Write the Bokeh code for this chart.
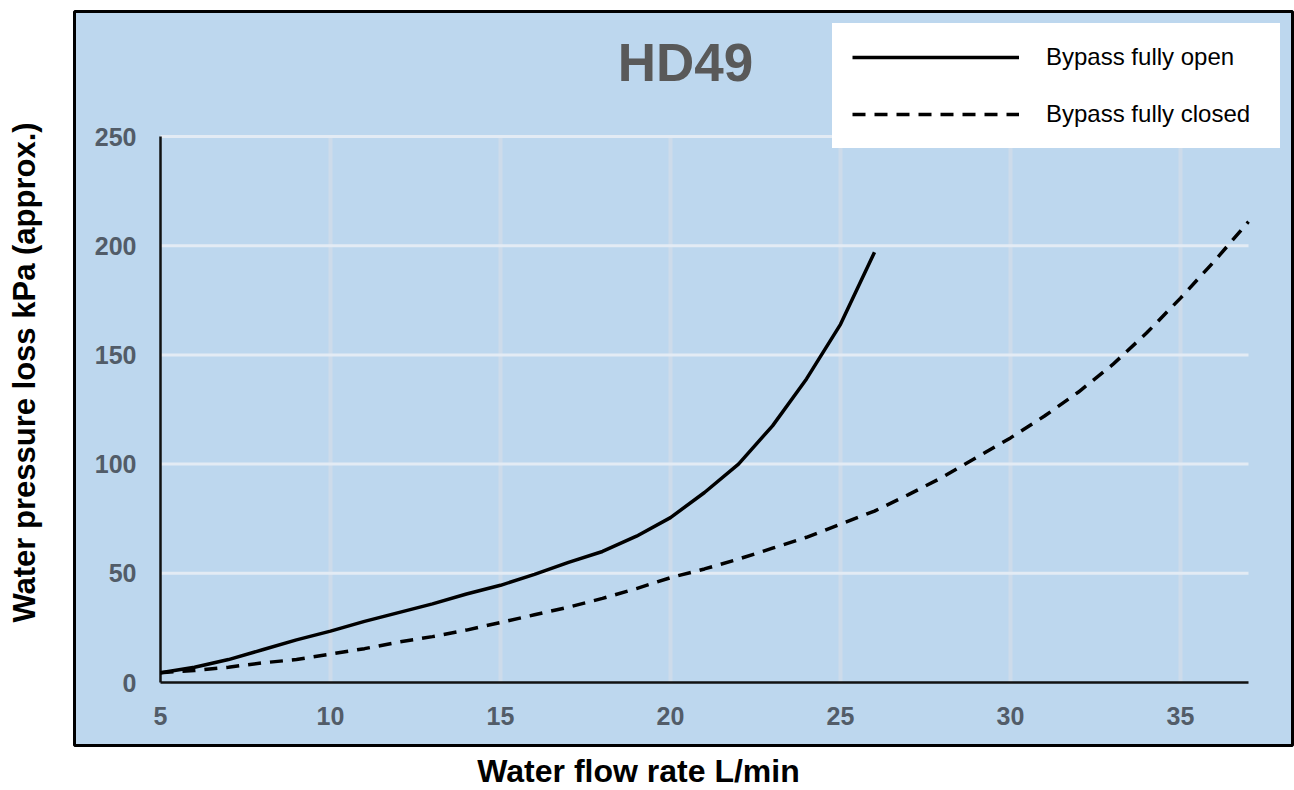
import math
from bokeh.plotting import figure
from bokeh.models import Range1d, Legend, LegendItem
from bokeh.core.properties import value
from bokeh.embed import file_html
from bokeh.resources import INLINE

# ---------------- data ----------------
flow_open = [5, 6, 7, 8, 9, 10, 11, 12, 13, 14, 15, 16, 17, 18, 19, 20, 21, 22, 23, 24, 25, 26]
loss_open = [4.5, 7, 10.5, 15, 19.5, 23.5, 28, 32, 36, 40.5, 44.5, 49.5, 55, 60, 67, 75.5, 87, 100, 117.5, 139, 164, 197]

flow_closed = [5, 6, 7, 8, 9, 10, 11, 12, 13, 14, 15, 16, 17, 18, 19, 20, 21,
               22, 23, 24, 25, 26, 27, 28, 29, 30, 31, 32, 33, 34, 35, 36, 37]
loss_closed = [4.5, 5.5, 7, 9, 10.5, 13, 15.5, 18.5, 21, 24, 27.5, 31, 34.5, 38.5, 43, 48, 52,
               56.5, 61.5, 66.5, 72.5, 78.5, 86, 94, 103, 112, 122, 133, 145.5, 160, 176, 193, 211]

series_names = ["Bypass fully open", "Bypass fully closed"]
x_ticks = [5, 10, 15, 20, 25, 30, 35]
x_tick_labels = ["5", "10", "15", "20", "25", "30", "35"]
y_ticks = [0, 50, 100, 150, 200, 250]
y_tick_labels = ["0", "50", "100", "150", "200", "250"]
chart_title = "HD49"
x_title = "Water flow rate L/min"
y_title = "Water pressure loss kPa (approx.)"

X_MIN, X_MAX = 5, 37
Y_MIN, Y_MAX = 0, 250

# ---------------- layout (pixels, from the canvas top-left) ----------------
W, H = 1294, 790
PX_X = 34.0          # pixels per L/min
PX_Y = 2.184         # pixels per kPa
ORIGIN_X = 160       # canvas x of flow = 5
ORIGIN_Y = 682       # canvas y of loss = 0
BOX_L, BOX_R, BOX_T, BOX_B = 74, 1292, 11, 745   # blue panel

def X(px):   # canvas x -> data
    return X_MIN + (px - ORIGIN_X) / PX_X

def Y(py):   # canvas y -> data
    return Y_MIN + (ORIGIN_Y - py) / PX_Y

BG = "#bdd7ee"
TICK_COLOR = "#525c68"
FONT = "Liberation Sans"

p = figure(width=W, height=H, x_range=Range1d(X(0), X(W)), y_range=Range1d(Y(H), Y(0)),
           output_backend="svg", toolbar_location=None,
           x_axis_location=None, y_axis_location=None,
           min_border=0, min_border_left=0, min_border_right=0,
           min_border_top=0, min_border_bottom=0,
           background_fill_color="white", border_fill_color="white",
           outline_line_color=None)
p.grid.visible = False

# blue panel with black border
p.quad(left=[X(BOX_L)], right=[X(BOX_R)], top=[Y(BOX_T)], bottom=[Y(BOX_B)],
       fill_color=BG, line_color="black", line_width=3)

# gridlines
p.segment(x0=x_ticks[1:], y0=[Y_MIN] * (len(x_ticks) - 1), x1=x_ticks[1:], y1=[Y_MAX] * (len(x_ticks) - 1),
          line_color="#cddbea", line_width=4)
p.segment(x0=[X_MIN] * (len(y_ticks) - 1), y0=y_ticks[1:], x1=[X_MAX] * (len(y_ticks) - 1), y1=y_ticks[1:],
          line_color="#e3ebf4", line_width=3)

# axis lines
p.segment(x0=[X_MIN], y0=[Y_MIN], x1=[X_MIN], y1=[Y_MAX], line_color="#111111", line_width=2.5)
p.segment(x0=[X_MIN], y0=[Y_MIN], x1=[X_MAX], y1=[Y_MIN], line_color="#111111", line_width=2.5)

# tick labels
p.text(x=[X(ORIGIN_X - 24)] * len(y_ticks), y=y_ticks, text=y_tick_labels,
       text_align="right", text_baseline="middle", text_font=value(FONT),
       text_font_style="bold", text_font_size="25px", text_color=TICK_COLOR)
p.text(x=x_ticks, y=[Y(ORIGIN_Y + 33)] * len(x_ticks), text=x_tick_labels,
       text_align="center", text_baseline="middle", text_font=value(FONT),
       text_font_style="bold", text_font_size="25px", text_color=TICK_COLOR)

# curves
r_open = p.line(flow_open, loss_open, line_color="black", line_width=3.5, line_join="round")
r_closed = p.line(flow_closed, loss_closed, line_color="black", line_width=3.5,
                  line_dash="13 9", line_join="round")

# chart title
p.text(x=[X(685)], y=[Y(62)], text=[chart_title], text_align="center", text_baseline="middle",
       text_font=value(FONT), text_font_style="bold", text_font_size="53px", text_color="#595959")

# axis titles
p.text(x=[X(638)], y=[Y(770)], text=[x_title], text_align="center", text_baseline="middle",
       text_font=value(FONT), text_font_style="bold", text_font_size="32px", text_color="black")
p.text(x=[X(24)], y=[Y(372)], text=[y_title], angle=math.pi / 2, text_align="center",
       text_baseline="middle", text_font=value(FONT), text_font_style="bold",
       text_font_size="31px", text_color="black")

legend = Legend(items=[LegendItem(label=series_names[0], renderers=[r_open]),
                       LegendItem(label=series_names[1], renderers=[r_closed])],
                location=(832, H - 148), padding=19, spacing=29,
                glyph_width=167, glyph_height=20, label_height=20, label_width=214,
                label_standoff=27, label_text_font=FONT, label_text_font_size="24px",
                label_text_color="black", background_fill_color="white",
                background_fill_alpha=1.0, border_line_color="white", border_line_width=1)
p.add_layout(legend)

open("out.html", "w").write(file_html(p, INLINE))
